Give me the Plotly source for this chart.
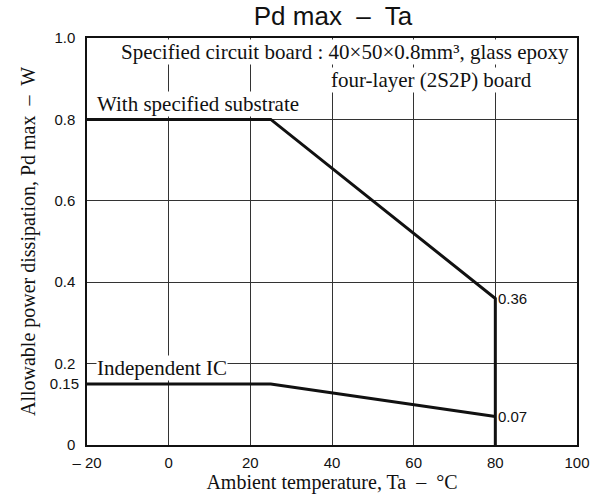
import plotly.graph_objects as go

# Data
substrate_x = [-20, 25, 80, 80]
substrate_y = [0.8, 0.8, 0.36, 0]
ic_x = [-20, 25, 80]
ic_y = [0.15, 0.15, 0.07]

x_ticks = [-20, 0, 20, 40, 60, 80, 100]
x_ticklabels = ["\u2013 20", "0", "20", "40", "60", "80", "100"]
y_grid_ticks = [0, 0.2, 0.4, 0.6, 0.8, 1.0]
y_grid_labels = ["0", "0.2", "0.4", "0.6", "0.8", "1.0"]
y_extra_ticks = [0.15]
y_extra_labels = ["0.15"]

SANS = "Liberation Sans, Arial, sans-serif"
SERIF = "Liberation Serif, Times New Roman, serif"

W, H = 602, 497

fig = go.Figure()
fig.add_trace(go.Scatter(x=substrate_x, y=substrate_y, mode="lines",
                         line=dict(color="#111", width=3), showlegend=False))
fig.add_trace(go.Scatter(x=ic_x, y=ic_y, mode="lines",
                         line=dict(color="#111", width=3), showlegend=False))

fig.update_layout(
    width=W, height=H,
    margin=dict(l=87, r=25, t=38, b=52, autoexpand=False),
    paper_bgcolor="white", plot_bgcolor="white",
    title=dict(text="Pd max  \u2013  Ta", x=333 / W, xanchor="center", y=1 - 16 / H, yanchor="middle",
               font=dict(family=SANS, size=26, color="#111"), automargin=False),
    xaxis=dict(range=[-20, 100], tickvals=x_ticks, ticktext=x_ticklabels,
               showgrid=True, gridcolor="#333", gridwidth=1, zeroline=False,
               showline=True, linecolor="#111", linewidth=1.5, mirror=True,
               ticks="", ticklabelstandoff=3, automargin=False,
               tickfont=dict(family=SANS, size=15, color="#111"),
               title=dict(text="Ambient temperature, Ta  \u2013  \u00b0C",
                          font=dict(family=SERIF, size=20, color="#111"), standoff=4)),
    yaxis=dict(range=[0, 1.0], tickvals=y_grid_ticks, ticktext=y_grid_labels,
               showgrid=True, gridcolor="#333", gridwidth=1, zeroline=False,
               showline=True, linecolor="#111", linewidth=1.5, mirror=True,
               ticks="", ticklabelstandoff=7, automargin=False,
               tickfont=dict(family=SANS, size=15, color="#111"),
               title=dict(text="Allowable power dissipation, Pd max  \u2013  W",
                          font=dict(family=SERIF, size=20, color="#111"), standoff=13)),
    yaxis2=dict(range=[0, 1.0], overlaying="y", side="left", tickvals=y_extra_ticks,
                ticktext=y_extra_labels, showgrid=False, zeroline=False, showline=False,
                ticks="", ticklabelstandoff=7, automargin=False,
                tickfont=dict(family=SANS, size=15, color="#111")),
)
fig.add_trace(go.Scatter(x=[None], y=[None], yaxis="y2", showlegend=False, hoverinfo="skip"))

ann_font = dict(family=SERIF, size=21, color="#111")
fig.add_annotation(x=98.3, y=0.966, xref="x", yref="y", xanchor="right", yanchor="middle",
                   text="Specified circuit board : 40\u00d750\u00d70.8mm\u00b3, glass epoxy",
                   showarrow=False, font=ann_font, bgcolor="white", borderpad=0)
fig.add_annotation(x=39.5, y=0.897, xref="x", yref="y", xanchor="left", yanchor="middle",
                   text="four-layer (2S2P) board",
                   showarrow=False, font=ann_font, bgcolor="white", borderpad=0)
fig.add_annotation(x=-17.8, y=0.838, xref="x", yref="y", xanchor="left", yanchor="middle",
                   text="With specified substrate",
                   showarrow=False, font=ann_font, bgcolor="white", borderpad=0)
fig.add_annotation(x=-17.8, y=0.19, xref="x", yref="y", xanchor="left", yanchor="middle",
                   text="Independent IC",
                   showarrow=False, font=ann_font, bgcolor="white", borderpad=0)
fig.add_annotation(x=substrate_x[2], y=substrate_y[2], xref="x", yref="y", xanchor="left",
                   yanchor="middle", text="0.36", showarrow=False,
                   font=dict(family=SANS, size=15, color="#111"), xshift=1)
fig.add_annotation(x=ic_x[2], y=ic_y[2], xref="x", yref="y", xanchor="left",
                   yanchor="middle", text="0.07", showarrow=False,
                   font=dict(family=SANS, size=15, color="#111"), xshift=1)

fig.write_html("out.html", config={"displayModeBar": False},
               post_script="document.body.style.margin='0';document.body.style.overflow='hidden';")
